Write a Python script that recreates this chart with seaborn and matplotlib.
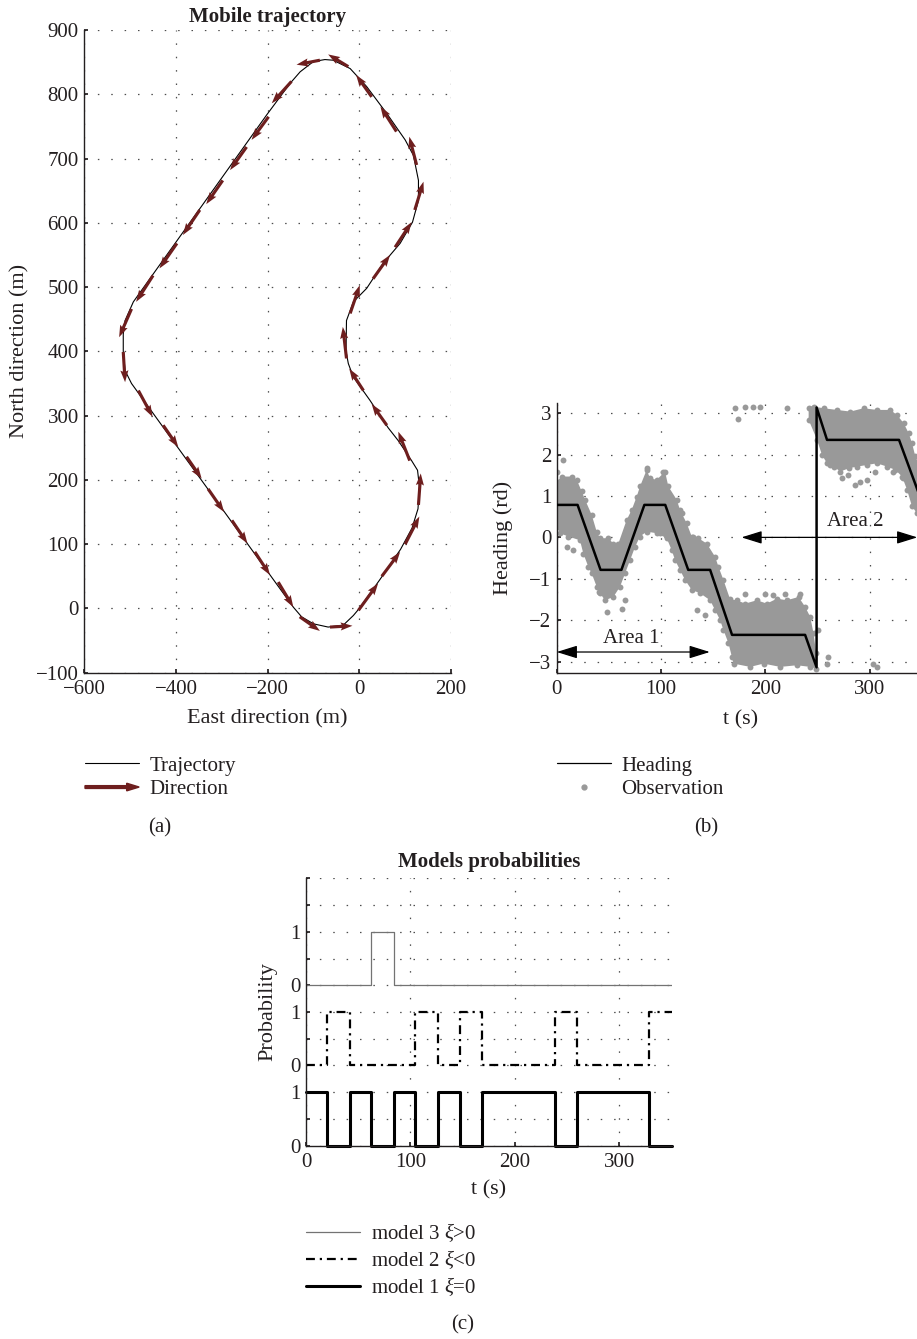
import numpy as np
import matplotlib
matplotlib.use("Agg")
import matplotlib.pyplot as plt
import matplotlib.patches as mpatches
from matplotlib.lines import Line2D
from matplotlib.legend_handler import HandlerPatch
import seaborn as sns

# ---------------- (a) mobile trajectory ----------------
traj_east = [0, 45, 90, 115, 128, 131, 127, 114, 85, 63, 23, -13, -24, -29, -28, -13, 16, 52,
             89, 116, 129, 129, 118, 100, 60, 16, -20, -57, -75, -100, -129, -151, -202, -493,
             -511, -515, -515, -511, -497, -144, -126, -100, -68, -35, -13, 0]
traj_north = [0, 45, 92, 125, 155, 190, 215, 230, 261, 281, 324, 360, 381, 400, 448, 477, 498,
              537, 568, 601, 635, 666, 705, 729, 770, 812, 840, 853, 854, 851, 835, 817, 768,
              477, 448, 427, 400, 370, 350, 2, -13, -24, -29, -26, -11, 0]

arrow_tail_east = [-2, 49, 100, 129, 110, 60, 9, -28, -20, 30, 78, 121, 125, 81, 27, -24, -86,
                   -148, -198, -246, -298, -348, -398, -450, -497, -515, -482, -428, -377, -330,
                   -278, -228, -177, -130, -64]
arrow_tail_north = [-3, 50, 100, 161, 230, 285, 339, 389, 459, 513, 562, 620, 690, 742, 796,
                    843, 853, 820, 765, 718, 666, 620, 568, 518, 466, 399, 339, 285, 236, 186,
                    137, 88, 41, -13, -29]
arrow_head_east = [41, 89, 131, 134, 85, 27, -22, -36, 1, 67, 114, 140, 109, 46, -7, -68, -137,
                   -191, -235, -282, -334, -385, -436, -487, -524, -511, -451, -395, -344, -295,
                   -244, -195, -144, -86, -15]
arrow_head_north = [39, 88, 143, 210, 275, 318, 373, 438, 503, 550, 601, 664, 734, 781, 830,
                    862, 846, 786, 729, 682, 629, 581, 529, 477, 422, 352, 298, 251, 202, 150,
                    101, 52, 2, -35, -27]

# ---------------- (b) heading ----------------
heading_t = [0, 20, 42, 62, 84, 104, 126, 147, 168, 238, 249, 249, 259, 328, 350]
heading = [0.785, 0.785, -0.785, -0.785, 0.785, 0.785, -0.785, -0.785, -2.356, -2.356,
           -3.14, 3.14, 2.356, 2.356, 0.85]

# edges of the observation cloud, before the wrap at -pi
obs_up_a_t = [0, 4.8, 14.4, 19.2, 24, 27.2, 33.6, 38.3, 41.5, 49.5, 54.3, 59.1, 67, 71.8,
              76.6, 79.8, 86.2, 89.4, 95.8, 103.8, 107, 115, 118.2, 124.6, 129.4, 135.8, 143.8,
              151.8, 155, 159.8, 166.2, 172.6, 180.6, 191.8, 201.4, 211, 220.5, 231.7, 238.1,
              242.9, 246.1, 248.6]
obs_up_a_h = [1.35, 1.47, 1.47, 1.39, 1.11, 0.91, 0.54, 0.14, -0.02, -0.02, -0.15, -0.15,
              0.42, 0.66, 0.98, 1.23, 1.63, 1.43, 1.39, 1.59, 1.23, 0.91, 0.66, 0.34, 0.02,
              -0.02, -0.15, -0.47, -0.71, -1.03, -1.50, -1.52, -1.60, -1.52, -1.60, -1.48,
              -1.52, -1.44, -1.68, -1.92, -2.32, -2.80]
obs_lo_a_t = [0, 3.2, 11.2, 22.3, 25.5, 30.3, 33.5, 38.3, 41.5, 46.3, 54.3, 60.7, 65.5, 70.3,
              75.1, 79.8, 86.2, 95.8, 105.4, 110.2, 113.4, 118.2, 123, 129.4, 137.4, 147, 151.8,
              156.6, 159.8, 164.6, 167.8, 169.4, 185.4, 198.2, 214.2, 230.2, 242.9, 248.6]
obs_lo_a_h = [0.26, 0.10, 0.02, -0.07, -0.39, -0.71, -0.87, -1.19, -1.35, -1.52, -1.44,
              -1.19, -0.87, -0.55, -0.23, 0.02, 0.14, 0.10, -0.02, -0.31, -0.55, -0.79, -1.03,
              -1.27, -1.35, -1.52, -1.76, -2.00, -2.24, -2.56, -2.88, -3.05, -3.13, -3.05,
              -3.13, -3.09, -3.13, -3.17]
# edges of the observation cloud, after the wrap at +pi
obs_up_b_t = [241.4, 246.2, 255.8, 268.5, 281.3, 294.1, 306.8, 319.6, 326, 332.4, 337.2,
              340.4, 343.6, 350]
obs_up_b_h = [3.12, 3.16, 3.12, 3.08, 3.04, 3.12, 3.08, 3.08, 2.96, 2.76, 2.52, 2.28, 1.96,
              1.60]
obs_lo_b_t = [241.4, 249.4, 254.2, 259, 265.4, 271.8, 279.8, 287.8, 297.4, 306.9, 316.5,
              324.5, 330.9, 335.7, 340.4, 345.2, 350]
obs_lo_b_h = [2.84, 2.36, 1.99, 1.79, 1.71, 1.59, 1.67, 1.71, 1.75, 1.79, 1.71, 1.63, 1.47,
              1.15, 0.75, 0.58, 0.20]

outlier_t = [6.3, 0, 9.6, 16, 40.8, 47.9, 62.3, 65.5, 86.2, 102.2, 99, 130.9, 140.5, 134.1,
             142.1, 162.9, 119.6, 170.8, 174, 180.4, 188.4, 194.8, 220.3, 180.4, 199.5, 207.5,
             218.7, 233, 250, 258.7, 260.3, 303.3, 306.5, 262, 273, 279.4, 285.8, 290.6, 297,
             305, 322.5, 332, 245.6]
outlier_h = [1.87, 1.59, -0.23, -0.31, -1.31, -1.80, -1.72, -1.52, 1.67, 1.59, 0.10, 0.02,
             -0.26, -1.76, -1.88, -2.25, 0.58, 3.12, 2.86, 3.16, 3.16, 3.16, 3.12, -1.36,
             -1.36, -1.39, -1.36, -1.36, -2.24, -3.05, -2.89, -3.05, -3.13, 1.75, 1.43, 1.51,
             1.27, 1.35, 1.39, 1.59, 1.59, 1.43, 3.12]

# ---------------- (c) model probabilities ----------------
model_t = [0, 20, 42, 62, 84, 104, 126, 147, 168, 238, 259, 328, 350]
model1 = [1, 0, 1, 0, 1, 0, 1, 0, 1, 0, 1, 0, 0]
model2 = [0, 1, 0, 0, 0, 1, 0, 1, 0, 1, 0, 1, 1]
model3 = [0, 0, 0, 1, 0, 0, 0, 0, 0, 0, 0, 0, 0]
prob_ticks = [0, 0.5, 1, 1.5, 2, 2.5, 3, 3.5, 4, 4.5, 5]
prob_labels = ["0", "", "1", "0", "", "1", "0", "", "1", "", ""]

# ---------------- style ----------------
sns.set_theme(style="ticks")
plt.rcParams.update({
    "font.family": ["Liberation Serif", "DejaVu Serif"],
    "mathtext.fontset": "custom",
    "mathtext.rm": "Liberation Serif",
    "mathtext.it": "Liberation Serif:italic",
    "font.size": 15,
    "axes.labelsize": 16,
    "xtick.labelsize": 15,
    "ytick.labelsize": 15,
    "axes.edgecolor": "#231f20",
    "axes.linewidth": 1.0,
    "text.color": "#231f20",
    "axes.labelcolor": "#231f20",
    "xtick.color": "#231f20",
    "ytick.color": "#231f20",
    "xtick.direction": "in",
    "ytick.direction": "in",
    "xtick.major.size": 3,
    "ytick.major.size": 3,
    "xtick.major.pad": 5,
    "ytick.major.pad": 4,
})

W, H = 917, 1339
dir_color = "#6e1e1e"
obs_color = "#999999"
grid_kw = dict(color="0.3", linestyle=(0, (1.2, 9.5)), linewidth=0.9)


def fig_rect(left, top, right, bottom):
    return [left / W, 1 - bottom / H, (right - left) / W, (bottom - top) / H]


fig = plt.figure(figsize=(W / 100, H / 100), dpi=100)
ax_a = fig.add_axes(fig_rect(84.3, 30, 451, 672.7))
ax_b = fig.add_axes(fig_rect(556.7, 403.3, 922, 672.7))
ax_c = fig.add_axes(fig_rect(306, 878.3, 671.7, 1145.7))

# (a)
sns.lineplot(x=traj_east, y=traj_north, sort=False, estimator=None, color="black",
             lw=0.8, ax=ax_a)
te, tn = np.array(arrow_tail_east), np.array(arrow_tail_north)
ax_a.quiver(te, tn, np.array(arrow_head_east) - te, np.array(arrow_head_north) - tn,
            angles="xy", scale_units="xy", scale=1, color=dir_color, width=0.0085,
            headwidth=2.6, headlength=3.8, headaxislength=3.4, zorder=3)
ax_a.set_xlim(-600, 200)
ax_a.set_ylim(-100, 900)
ax_a.set_xticks([-600, -400, -200, 0, 200])
ax_a.set_yticks(range(-100, 901, 100))
ax_a.grid(True, **grid_kw)
ax_a.set_title("Mobile trajectory", fontweight="bold", fontsize=15, pad=6)
ax_a.set_xlabel("East direction (m)")
ax_a.set_ylabel("North direction (m)")
ax_a.xaxis.set_label_coords(0.5, -0.072)
ax_a.yaxis.set_label_coords(-0.175, 0.5)
ax_a.xaxis.label.set_va("center")
ax_a.yaxis.label.set_va("center")

# (b)
ax_b.fill(obs_up_a_t + obs_lo_a_t[::-1], obs_up_a_h + obs_lo_a_h[::-1], color=obs_color, lw=0)
ax_b.fill(obs_up_b_t + obs_lo_b_t[::-1], obs_up_b_h + obs_lo_b_h[::-1], color=obs_color, lw=0)
sns.scatterplot(x=obs_up_a_t + obs_lo_a_t + obs_up_b_t + obs_lo_b_t + outlier_t,
                y=obs_up_a_h + obs_lo_a_h + obs_up_b_h + obs_lo_b_h + outlier_h,
                color=obs_color, s=18, linewidth=0, ax=ax_b)
sns.lineplot(x=heading_t, y=heading, sort=False, estimator=None, color="black", lw=1.8,
             ax=ax_b, zorder=4)
arrow_kw = dict(arrowstyle="<|-|>,head_length=0.9,head_width=0.28", color="black", lw=0.9,
                shrinkA=0, shrinkB=0, mutation_scale=14)
ax_b.annotate("", xy=(0, -2.77), xytext=(146.7, -2.77), arrowprops=arrow_kw, zorder=5)
ax_b.text(71.8, -2.44, "Area 1", ha="center", va="center", fontsize=15)
ax_b.annotate("", xy=(177, 0), xytext=(345.5, 0), arrowprops=arrow_kw, zorder=5)
ax_b.text(286.4, 0.38, "Area 2", ha="center", va="center", fontsize=15)
ax_b.set_xlim(0, 350)
ax_b.set_ylim(-3.27, 3.24)
ax_b.set_xticks([0, 100, 200, 300])
ax_b.set_yticks(range(-3, 4))
ax_b.grid(True, **grid_kw)
ax_b.set_xlabel("t (s)")
ax_b.set_ylabel("Heading (rd)")
ax_b.xaxis.set_label_coords(0.502, -0.176)
ax_b.yaxis.set_label_coords(-0.147, 0.5)
ax_b.xaxis.label.set_va("center")
ax_b.yaxis.label.set_va("center")

# (c)
sns.lineplot(x=model_t, y=np.array(model3) + 3.0, estimator=None, drawstyle="steps-post",
             color="0.45", lw=0.9, ax=ax_c)
sns.lineplot(x=model_t, y=np.array(model2) + 1.5, estimator=None, drawstyle="steps-post",
             color="black", lw=1.6, linestyle=(0, (4, 2.2, 1, 2.2)), ax=ax_c)
sns.lineplot(x=model_t, y=model1, estimator=None, drawstyle="steps-post",
             color="black", lw=2.2, ax=ax_c, clip_on=False)
ax_c.set_xlim(0, 350)
ax_c.set_ylim(0, 5)
ax_c.set_xticks([0, 100, 200, 300])
ax_c.set_yticks(prob_ticks)
ax_c.set_yticklabels(prob_labels)
ax_c.grid(True, **grid_kw)
ax_c.set_title("Models probabilities", fontweight="bold", fontsize=15, pad=8)
ax_c.set_xlabel("t (s)")
ax_c.set_ylabel("Probability")
ax_c.xaxis.set_label_coords(0.5, -0.166)
ax_c.yaxis.set_label_coords(-0.104, 0.5)
ax_c.xaxis.label.set_va("center")
ax_c.yaxis.label.set_va("center")

for ax in (ax_a, ax_b, ax_c):
    sns.despine(ax=ax)


# legends
def make_arrow(legend, orig_handle, xdescent, ydescent, width, height, fontsize):
    return mpatches.FancyArrow(0, 0.5 * height, width, 0, length_includes_head=True,
                               width=2.0, head_width=5.5, head_length=9, color=dir_color)


leg_kw = dict(frameon=False, loc="upper left", borderpad=0, borderaxespad=0,
              handlelength=2.6, handletextpad=0.5, labelspacing=0.2, fontsize=15)
fig.legend(handles=[Line2D([], [], color="black", lw=0.8),
                    mpatches.FancyArrow(0, 0, 1, 0, color=dir_color)],
           labels=["Trajectory", "Direction"],
           handler_map={mpatches.FancyArrow: HandlerPatch(patch_func=make_arrow)},
           bbox_to_anchor=(85 / W, 1 - 756 / H), **leg_kw)
fig.legend(handles=[Line2D([], [], color="black", lw=0.9),
                    Line2D([], [], color=obs_color, marker="o", ls="", markersize=3.5)],
           labels=["Heading", "Observation"],
           bbox_to_anchor=(557 / W, 1 - 756 / H), **leg_kw)
fig.legend(handles=[Line2D([], [], color="0.45", lw=0.9),
                    Line2D([], [], color="black", lw=1.6, ls=(0, (4, 2.2, 1, 2.2))),
                    Line2D([], [], color="black", lw=2.2)],
           labels=["model 3 $\\xi$>0", "model 2 $\\xi$<0", "model 1 $\\xi$=0"],
           bbox_to_anchor=(306 / W, 1 - 1221 / H), **leg_kw)

fig.text(160 / W, 1 - 828 / H, "(a)", ha="center", va="center", fontsize=15)
fig.text(706 / W, 1 - 828 / H, "(b)", ha="center", va="center", fontsize=15)
fig.text(463 / W, 1 - 1325 / H, "(c)", ha="center", va="center", fontsize=15)

fig.savefig("out.png", dpi=100)
